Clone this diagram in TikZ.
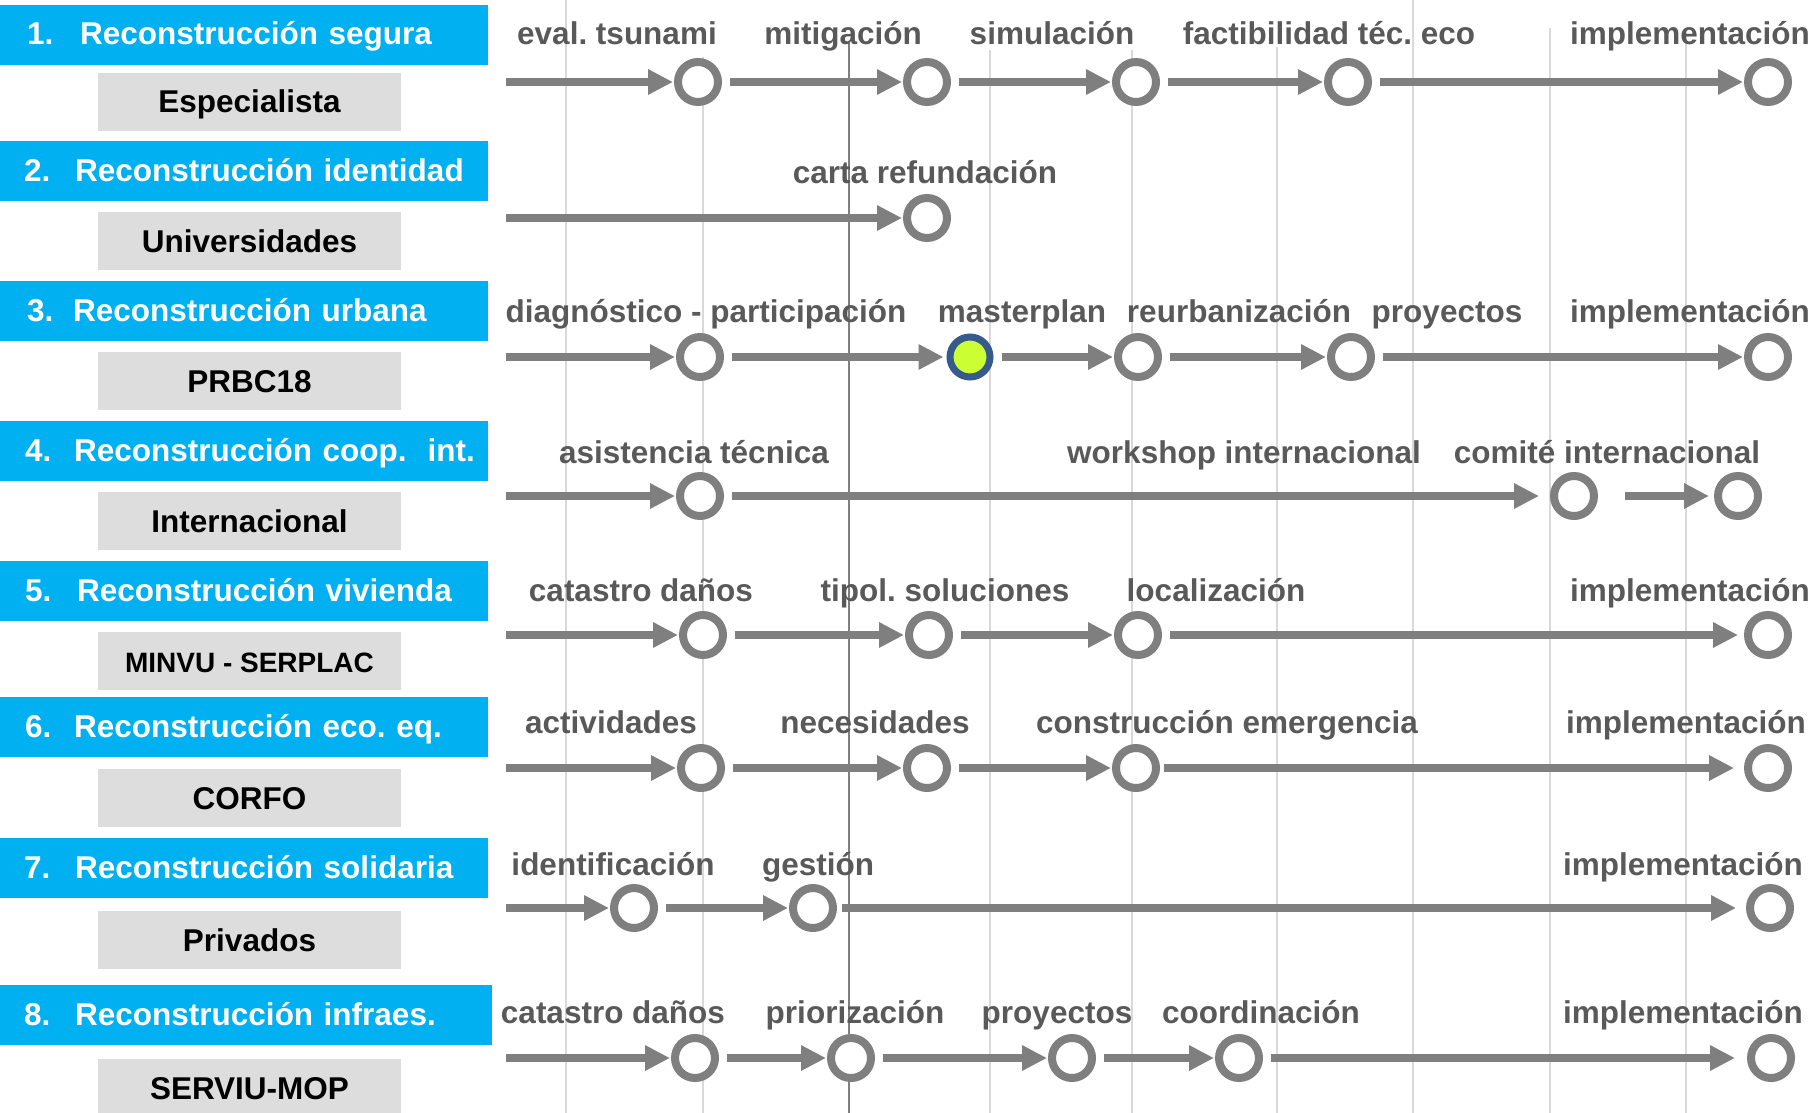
\documentclass[tikz,border=0pt]{standalone}
\usepackage{fontspec}
\setmainfont{Liberation Sans}
\usepackage{tikz}
\usetikzlibrary{arrows.meta, positioning}
\frenchspacing

\definecolor{celeste}{HTML}{00B0F0}
\definecolor{grisclaro}{HTML}{DDDDDD}
\definecolor{grishito}{HTML}{7F7F7F}
\definecolor{gristexto}{HTML}{595959}
\definecolor{grisrejilla}{HTML}{D9D9D9}
\definecolor{verdelima}{HTML}{CCFF33}
\definecolor{azulborde}{HTML}{375A8C}

\begin{document}
\begin{tikzpicture}[x=1pt, y=-1pt,
    eje/.style={fill=celeste, text=white, font=\fontsize{31.5}{32}\selectfont\bfseries,
        text width=488pt, inner xsep=0pt, inner ysep=0pt, minimum height=60pt,
        text height=23pt, text depth=3pt, anchor=west, align=left},
    actor/.style={fill=grisclaro, font=\fontsize{31.5}{32}\selectfont\bfseries,
        minimum width=303pt, minimum height=58pt, inner sep=0pt,
        text height=23pt, text depth=1pt},
    hito/.style={circle, draw=grishito, line width=8pt, fill=white, minimum size=40pt, inner sep=0pt},
    actual/.style={hito, draw=azulborde, fill=verdelima, line width=7pt},
    flecha/.style={draw=grishito, line width=8pt, -{Triangle[length=25pt, width=24pt]}, shorten >=1pt},
    sigue/.style={flecha, shorten <=8pt},
    etapa/.style={text=gristexto, font=\fontsize{31.5}{32}\selectfont\bfseries, anchor=base, inner sep=0pt}]

        \useasboundingbox (0,0) rectangle (1814,1113);

        % Grid
        \foreach \gx/\gy in {566/0, 703/57, 990/50, 1132/50, 1277/47, 1413/0, 1550/28, 1686/33}
            \draw[grisrejilla, line width=2pt] (\gx,\gy) -- (\gx,1113);
        \draw[grishito, line width=2pt] (849,43) -- (849,1113);

        % Ejes y responsables
        \node[eje] (b1) at (0,35) {\hspace*{27pt}\makebox[53pt][l]{1.}Reconstrucción segura};
        \node[actor] (r1) at (249.5,102) {Especialista};
        \node[eje] (b2) at (0,171) {\hspace*{24pt}\makebox[51pt][l]{2.}Reconstrucción identidad};
        \node[actor] (r2) at (249.5,241) {Universidades};
        \node[eje] (b3) at (0,311) {\hspace*{27pt}\makebox[46pt][l]{3.}Reconstrucción urbana};
        \node[actor] (r3) at (249.5,381) {PRBC18};
        \node[eje] (b4) at (0,451) {\hspace*{25pt}\makebox[49pt][l]{4.}Reconstrucción coop.\ \ int.};
        \node[actor] (r4) at (249.5,521) {Internacional};
        \node[eje] (b5) at (0,591) {\hspace*{25pt}\makebox[52pt][l]{5.}Reconstrucción vivienda};
        \node[actor, font=\fontsize{28}{28}\selectfont\bfseries] (r5) at (249.5,661) {MINVU - SERPLAC};
        \node[eje] (b6) at (0,727) {\hspace*{25pt}\makebox[49pt][l]{6.}Reconstrucción eco. eq.};
        \node[actor] (r6) at (249.5,798) {CORFO};
        \node[eje] (b7) at (0,868) {\hspace*{24pt}\makebox[51pt][l]{7.}Reconstrucción solidaria};
        \node[actor] (r7) at (249.5,940) {Privados};
        \node[eje, text width=492pt] (b8) at (0,1015) {\hspace*{24pt}\makebox[51pt][l]{8.}Reconstrucción infraes.};
        \node[actor] (r8) at (249.5,1088) {SERVIU-MOP};

        % 1. Reconstruccion segura
        \node[etapa] (e11) at (617,45) {eval. tsunami};
        \node[etapa] (e12) at (843,45) {mitigación};
        \node[etapa] (e13) at (1052,45) {simulación};
        \node[etapa] (e14) at (1329,45) {factibilidad téc. eco};
        \node[etapa] (e15) at (1690,45) {implementación};
        \coordinate (s1) at (506,82);
        \node[hito] (h11) at (698,82) {};
        \node[hito] (h12) at (927,82) {};
        \node[hito] (h13) at (1136,82) {};
        \node[hito] (h14) at (1348,82) {};
        \node[hito] (h15) at (1768,82) {};
        \draw[flecha] (s1) -- (h11);
        \draw[sigue] (h11) -- (h12);
        \draw[sigue] (h12) -- (h13);
        \draw[sigue] (h13) -- (h14);
        \draw[sigue] (h14) -- (h15);

        % 2. Reconstruccion identidad
        \node[etapa] (e21) at (925,183) {carta refundación};
        \coordinate (s2) at (506,218);
        \node[hito] (h21) at (927,218) {};
        \draw[flecha] (s2) -- (h21);

        % 3. Reconstruccion urbana
        \node[etapa] (e31) at (706,322) {diagnóstico - participación};
        \node[etapa] (e32) at (1022,322) {masterplan};
        \node[etapa] (e33) at (1239,322) {reurbanización};
        \node[etapa] (e34) at (1447,322) {proyectos};
        \node[etapa] (e35) at (1690,322) {implementación};
        \coordinate (s3) at (506,357);
        \node[hito] (h31) at (700,357) {};
        \node[actual] (h32) at (970,357) {};
        \node[hito] (h33) at (1138,357) {};
        \node[hito] (h34) at (1351,357) {};
        \node[hito] (h35) at (1768,357) {};
        \draw[flecha] (s3) -- (h31);
        \draw[sigue, shorten >=3pt] (h31) -- (h32);
        \draw[sigue] (h32) -- (h33);
        \draw[sigue] (h33) -- (h34);
        \draw[sigue] (h34) -- (h35);

        % 4. Reconstruccion coop. int.
        \node[etapa] (e41) at (694,463) {asistencia técnica};
        \node[etapa] (e42) at (1244,463) {workshop internacional};
        \node[etapa] (e43) at (1607,463) {comité internacional};
        \coordinate (s4) at (506,496);
        \node[hito] (h41) at (700,496) {};
        \node[hito] (h42) at (1574,496) {};
        \node[hito] (h43) at (1738,496) {};
        \draw[flecha] (s4) -- (h41);
        \draw[sigue, shorten >=11pt] (h41) -- (h42);
        \draw[flecha, shorten <=27pt, shorten >=5pt] (h42) -- (h43);

        % 5. Reconstruccion vivienda
        \node[etapa] (e51) at (641,601) {catastro daños};
        \node[etapa] (e52) at (945,601) {tipol. soluciones};
        \node[etapa] (e53) at (1216,601) {localización};
        \node[etapa] (e54) at (1690,601) {implementación};
        \coordinate (s5) at (506,635);
        \node[hito] (h51) at (703,635) {};
        \node[hito] (h52) at (929,635) {};
        \node[hito] (h53) at (1138,635) {};
        \node[hito] (h54) at (1768,635) {};
        \draw[flecha] (s5) -- (h51);
        \draw[sigue] (h51) -- (h52);
        \draw[sigue] (h52) -- (h53);
        \draw[sigue, shorten >=6pt] (h53) -- (h54);

        % 6. Reconstruccion eco. eq.
        \node[etapa] (e61) at (611,733) {actividades};
        \node[etapa] (e62) at (875,733) {necesidades};
        \node[etapa] (e63) at (1227,733) {construcción emergencia};
        \node[etapa] (e64) at (1686,733) {implementación};
        \coordinate (s6) at (506,768);
        \node[hito] (h61) at (701,768) {};
        \node[hito] (h62) at (927,768) {};
        \node[hito] (h63) at (1136,768) {};
        \node[hito] (h64) at (1768,768) {};
        \draw[flecha] (s6) -- (h61);
        \draw[sigue] (h61) -- (h62);
        \draw[sigue] (h62) -- (h63);
        \draw[sigue, shorten <=4pt, shorten >=10pt] (h63) -- (h64);

        % 7. Reconstruccion solidaria
        \node[etapa] (e71) at (613,875) {identificación};
        \node[etapa] (e72) at (818,875) {gestión};
        \node[etapa] (e73) at (1683,875) {implementación};
        \coordinate (s7) at (506,908);
        \node[hito] (h71) at (634,908) {};
        \node[hito] (h72) at (813,908) {};
        \node[hito] (h73) at (1770,908) {};
        \draw[flecha] (s7) -- (h71);
        \draw[sigue] (h71) -- (h72);
        \draw[sigue, shorten <=5pt, shorten >=10pt] (h72) -- (h73);

        % 8. Reconstruccion infraes.
        \node[etapa] (e81) at (613,1023) {catastro daños};
        \node[etapa] (e82) at (855,1023) {priorización};
        \node[etapa] (e83) at (1057,1023) {proyectos};
        \node[etapa] (e84) at (1261,1023) {coordinación};
        \node[etapa] (e85) at (1683,1023) {implementación};
        \coordinate (s8) at (506,1058);
        \node[hito] (h81) at (695,1058) {};
        \node[hito] (h82) at (851,1058) {};
        \node[hito] (h83) at (1072,1058) {};
        \node[hito] (h84) at (1239,1058) {};
        \node[hito] (h85) at (1771,1058) {};
        \draw[flecha] (s8) -- (h81);
        \draw[sigue] (h81) -- (h82);
        \draw[sigue] (h82) -- (h83);
        \draw[sigue] (h83) -- (h84);
        \draw[sigue, shorten >=12pt] (h84) -- (h85);

    \end{tikzpicture}
\end{document}
